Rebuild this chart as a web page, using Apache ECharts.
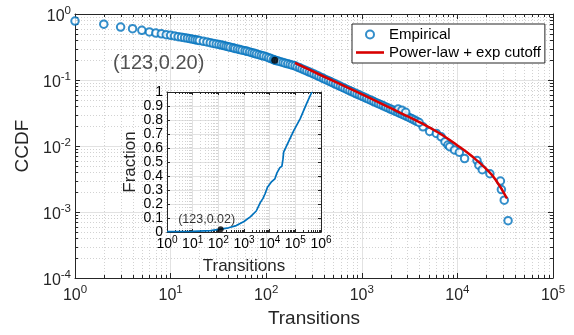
<!DOCTYPE html>
<html>
<head>
<meta charset="utf-8">
<script src="https://cdn.jsdelivr.net/npm/echarts@6/dist/echarts.min.js"></script>
<style>
  html, body { margin: 0; padding: 0; background: #fff; }
  #chart { width: 574px; height: 335px; }
</style>
</head>
<body>
<div id="chart"></div>
<script>
// empirical CCDF, [transitions, ccdf]: the sparse head and tail ...
const empiricalSparse = [
  [1, 0.78], [2, 0.70], [3, 0.635], [4, 0.60], [5, 0.565], [6, 0.535], [7, 0.515], [8, 0.50], [9, 0.485], [10, 0.475],
  [11, 0.464], [12, 0.454], [13, 0.445], [14, 0.437], [15, 0.430], [16, 0.423], [17, 0.415], [18, 0.408], [19, 0.402], [20, 0.396],
  [22, 0.386], [24, 0.377], [26, 0.367], [28, 0.358], [30, 0.351],
  [4365, 0.0195], [5129, 0.0166], [6026, 0.0155], [6761, 0.0138], [7413, 0.0116], [7943, 0.01035], [8318, 0.00977], [9333, 0.0087],
  [10471, 0.00804], [11885, 0.00646], [16032, 0.00603], [16788, 0.00513], [18197, 0.00437], [21878, 0.0038], [28184, 0.00295],
  [28840, 0.00219], [30903, 0.00151], [33884, 0.00074]
];
// ... and the dense middle where the circles merge into a band
const empiricalDense = [
  [32, 0.345], [34, 0.338], [36, 0.332], [38, 0.326], [40, 0.320], [42, 0.3135], [45, 0.307], [47, 0.301], [50, 0.295], [53, 0.289],
  [56, 0.2835], [60, 0.278], [63, 0.272], [67, 0.266], [71, 0.2595], [75, 0.2535], [79, 0.2475], [84, 0.2416], [89, 0.236], [94, 0.2304],
  [100, 0.225], [106, 0.2177], [112, 0.2108], [119, 0.204], [123, 0.200], [126, 0.198], [133, 0.1935], [141, 0.189], [150, 0.1846], [158, 0.180],
  [168, 0.176], [178, 0.172], [188, 0.168], [200, 0.164], [211, 0.158], [224, 0.1527], [237, 0.1473], [251, 0.142], [266, 0.137], [282, 0.132],
  [298, 0.1276], [316, 0.123], [335, 0.1184], [355, 0.1138], [376, 0.1095], [398, 0.1053], [422, 0.1013], [447, 0.0975], [473, 0.0938], [501, 0.0902],
  [531, 0.0868], [562, 0.0834], [596, 0.0803], [631, 0.0772], [668, 0.0743], [708, 0.0714], [750, 0.0687], [794, 0.0661], [841, 0.0636], [891, 0.0613],
  [944, 0.0590], [1000, 0.0569], [1059, 0.0548], [1122, 0.0528], [1189, 0.0508], [1259, 0.0490], [1334, 0.0472], [1413, 0.0454], [1496, 0.0438], [1585, 0.0422],
  [1679, 0.0406], [1778, 0.0391], [1884, 0.0377], [1995, 0.0363], [2113, 0.0350], [2239, 0.0337], [2371, 0.0325], [2512, 0.0313], [2661, 0.0301], [2818, 0.0290],
  [2985, 0.0279], [3162, 0.0269], [3350, 0.0258], [3548, 0.0247], [3758, 0.0237], [3981, 0.0227],
  [2400, 0.0363], [2630, 0.0347], [2880, 0.0324]
];

// fitted power-law with exponential cutoff
const powerLawFit = [
  [200, 0.181], [400, 0.113], [800, 0.071], [1600, 0.044], [2500, 0.032], [4000, 0.023],
  [6300, 0.016], [10000, 0.0102], [14000, 0.0071], [20000, 0.0045], [25000, 0.0031], [33000, 0.0016]
];

// inset: cumulative fraction
const insetFraction = [
  [1, 0.002], [10, 0.004], [50, 0.01], [123, 0.02], [250, 0.03], [500, 0.046], [1000, 0.075], [1800, 0.11],
  [3000, 0.15], [4300, 0.21], [5500, 0.24], [6700, 0.275], [8200, 0.32], [12000, 0.36], [16000, 0.38], [19000, 0.42],
  [25000, 0.46], [30000, 0.47], [33000, 0.52], [35000, 0.57], [47000, 0.62], [85000, 0.72], [155000, 0.81], [280000, 0.92], [440000, 1.0]
];

const markMain = [123, 0.20];
const markInset = [123, 0.02];
const markMainText = '(123,0.20)';
const markInsetText = '(123,0.02)';

const FONT = '"Liberation Sans", Arial, Helvetica, sans-serif';
const INK = '#262626';
const BLUE = '#0072BD';
const RED = '#D80000';
const MAJOR = '#e2e2e2';
const MINOR = '#d2d2d2';

function powLabel(v) {
  const e = Math.round(Math.log10(v));
  return '{b|10}{s|' + e + '}';
}

function minorValues(fromExp, toExp) {
  const out = [];
  for (let e = fromExp; e < toExp; e++) {
    for (let k = 2; k <= 9; k++) out.push(+(k * Math.pow(10, e)).toPrecision(3));
  }
  return out;
}

// dotted minor grid + short inward ticks on both ends
function vMinor(y0, y1, tick) {
  return function (params, api) {
    const a = api.coord([api.value(0), y0]);
    const b = api.coord([api.value(0), y1]);
    const x = Math.round(a[0]) + 0.5;
    return {
      type: 'group',
      children: [
        { type: 'line', shape: { x1: x, y1: a[1], x2: x, y2: b[1] }, style: { stroke: MINOR, lineWidth: 1, lineDash: [1, 2] } },
        { type: 'line', shape: { x1: x, y1: a[1], x2: x, y2: a[1] - tick }, style: { stroke: INK, lineWidth: 1 } },
        { type: 'line', shape: { x1: x, y1: b[1], x2: x, y2: b[1] + tick }, style: { stroke: INK, lineWidth: 1 } }
      ]
    };
  };
}
function hMinor(x0, x1, tick) {
  return function (params, api) {
    const a = api.coord([x0, api.value(1)]);
    const b = api.coord([x1, api.value(1)]);
    const y = Math.round(a[1]) + 0.5;
    return {
      type: 'group',
      children: [
        { type: 'line', shape: { x1: a[0], y1: y, x2: b[0], y2: y }, style: { stroke: MINOR, lineWidth: 1, lineDash: [1, 2] } },
        { type: 'line', shape: { x1: a[0], y1: y, x2: a[0] + tick, y2: y }, style: { stroke: INK, lineWidth: 1 } },
        { type: 'line', shape: { x1: b[0], y1: y, x2: b[0] - tick, y2: y }, style: { stroke: INK, lineWidth: 1 } }
      ]
    };
  };
}

const mainRich = {
  b: { fontSize: 16, color: INK, fontFamily: FONT },
  s: { fontSize: 11.5, color: INK, fontFamily: FONT, padding: [0, 0, 12, 0] }
};
const insetRich = {
  b: { fontSize: 14, color: '#000', fontFamily: FONT },
  s: { fontSize: 10, color: '#000', fontFamily: FONT, padding: [0, 0, 9, 0] }
};

function logAxis(grid, min, max, pos, opts) {
  return Object.assign({
    type: 'log', logBase: 10, gridIndex: grid, min: min, max: max, interval: 1, position: pos,
    axisLine: { show: true, onZero: false, lineStyle: { color: INK, width: 1 } },
    axisTick: { show: true, inside: true, length: 5, lineStyle: { color: INK } },
    axisLabel: { show: false },
    splitLine: { show: false }
  }, opts);
}

const chart = echarts.init(document.getElementById('chart'));
chart.setOption({
  animation: false,
  backgroundColor: '#fff',
  textStyle: { fontFamily: FONT, color: INK },
  grid: [
    { left: 75, right: 21, top: 14, bottom: 57, z: 0 },
    { left: 167, top: 92, width: 154, height: 140, z: 10, show: true, backgroundColor: '#fff', borderWidth: 0 }
  ],
  legend: {
    data: [
      { name: 'Empirical', icon: 'emptyCircle' },
      { name: 'Power-law + exp cutoff', icon: 'path://M0,0 L28,0 L28,2.6 L0,2.6 Z' }
    ],
    orient: 'vertical', left: 352, top: 24, z: 20,
    itemWidth: 28, itemHeight: 8, itemGap: 3,
    padding: [3, 4, 3, 4],
    backgroundColor: '#fff', borderColor: INK, borderWidth: 1, borderRadius: 0,
    itemStyle: { borderWidth: 1.5 },
    textStyle: { fontSize: 15, color: '#000', fontFamily: FONT }
  },
  xAxis: [
    logAxis(0, 1, 1e5, 'bottom', {
      axisLabel: { show: true, margin: 6, formatter: powLabel, rich: mainRich },
      splitLine: { show: true, lineStyle: { color: MAJOR } },
      name: 'Transitions', nameLocation: 'middle', nameGap: 27,
      nameTextStyle: { fontSize: 19, color: INK, fontFamily: FONT }
    }),
    logAxis(0, 1, 1e5, 'top'),
    logAxis(1, 1, 1e6, 'bottom', {
      z: 11,
      axisTick: { show: true, inside: true, length: 3, lineStyle: { color: INK } },
      axisLabel: { show: true, margin: 3, hideOverlap: false, showMinLabel: true, showMaxLabel: true, formatter: powLabel, rich: insetRich },
      splitLine: { show: true, lineStyle: { color: MAJOR } },
      name: 'Transitions', nameLocation: 'middle', nameGap: 26,
      nameTextStyle: { fontSize: 17, color: INK, fontFamily: FONT }
    }),
    logAxis(1, 1, 1e6, 'top', { z: 11, axisTick: { show: true, inside: true, length: 3, lineStyle: { color: INK } } })
  ],
  yAxis: [
    logAxis(0, 1e-4, 1, 'left', {
      axisLabel: { show: true, margin: 4, padding: [6, 0, 0, 0], formatter: powLabel, rich: mainRich },
      splitLine: { show: true, lineStyle: { color: MAJOR } },
      name: 'CCDF', nameLocation: 'middle', nameGap: 39,
      nameTextStyle: { fontSize: 19, color: INK, fontFamily: FONT }
    }),
    logAxis(0, 1e-4, 1, 'right'),
    {
      type: 'value', gridIndex: 1, min: 0, max: 1, interval: 0.1, position: 'left', z: 11,
      axisLine: { show: true, lineStyle: { color: INK } },
      axisTick: { show: true, inside: true, length: 3, lineStyle: { color: INK } },
      axisLabel: {
        show: true, margin: 4, fontSize: 14, lineHeight: 13, color: '#000', fontFamily: FONT,
        hideOverlap: false, showMinLabel: true, showMaxLabel: true
      },
      splitLine: { show: true, lineStyle: { color: MAJOR } },
      name: 'Fraction', nameLocation: 'middle', nameGap: 28,
      nameTextStyle: { fontSize: 17, color: INK, fontFamily: FONT }
    },
    {
      type: 'value', gridIndex: 1, min: 0, max: 1, interval: 0.1, position: 'right', z: 11,
      axisLine: { show: true, lineStyle: { color: INK } },
      axisTick: { show: true, inside: true, length: 3, lineStyle: { color: INK } },
      axisLabel: { show: false }, splitLine: { show: false }
    }
  ],
  series: [
    {
      type: 'custom', name: 'minorX', xAxisIndex: 0, yAxisIndex: 0, z: 1, silent: true,
      data: minorValues(0, 5).map(v => [v, 1e-4]), encode: { x: 0, y: 1 },
      renderItem: vMinor(1e-4, 1, 3)
    },
    {
      type: 'custom', name: 'minorY', xAxisIndex: 0, yAxisIndex: 0, z: 1, silent: true,
      data: minorValues(-4, 0).map(v => [1, v]), encode: { x: 0, y: 1 },
      renderItem: hMinor(1, 1e5, 3)
    },
    {
      name: 'Empirical', type: 'scatter', xAxisIndex: 0, yAxisIndex: 0, z: 3,
      data: empiricalSparse, symbol: 'emptyCircle', symbolSize: 7.5,
      itemStyle: { color: BLUE, borderColor: BLUE, borderWidth: 1.5 }
    },
    {
      name: 'Empirical', type: 'scatter', xAxisIndex: 0, yAxisIndex: 0, z: 3,
      data: empiricalDense, symbol: 'emptyCircle', symbolSize: 7.5,
      itemStyle: { color: BLUE, borderColor: BLUE, borderWidth: 2.4 }
    },
    {
      name: 'Power-law + exp cutoff', type: 'line', xAxisIndex: 0, yAxisIndex: 0, z: 4,
      data: powerLawFit, smooth: true, symbol: 'none', showSymbol: false,
      lineStyle: { color: RED, width: 2.5 }, itemStyle: { color: RED }
    },
    {
      name: 'markMain', type: 'scatter', xAxisIndex: 0, yAxisIndex: 0, z: 5,
      data: [markMain], symbol: 'circle', symbolSize: 7, itemStyle: { color: '#000' },
      label: { show: true, position: 'left', distance: 67, offset: [0, 3], formatter: markMainText, fontSize: 20, color: INK, fontFamily: FONT }
    },
    {
      type: 'custom', name: 'insetMinorX', xAxisIndex: 2, yAxisIndex: 2, z: 11, silent: true,
      data: minorValues(0, 6).map(v => [v, 0]), encode: { x: 0, y: 1 },
      renderItem: vMinor(0, 1, 2)
    },
    {
      name: 'insetLine', type: 'line', xAxisIndex: 2, yAxisIndex: 2, z: 12,
      data: insetFraction, symbol: 'none', showSymbol: false,
      lineStyle: { color: BLUE, width: 1.7 }
    },
    {
      name: 'markInset', type: 'scatter', xAxisIndex: 2, yAxisIndex: 2, z: 13,
      data: [markInset], symbol: 'circle', symbolSize: 6, itemStyle: { color: '#000' },
      label: { show: true, position: 'top', distance: 1, offset: [-14, 1], formatter: markInsetText, fontSize: 12.5, color: '#000', fontFamily: FONT }
    }
  ]
});
</script>
</body>
</html>
